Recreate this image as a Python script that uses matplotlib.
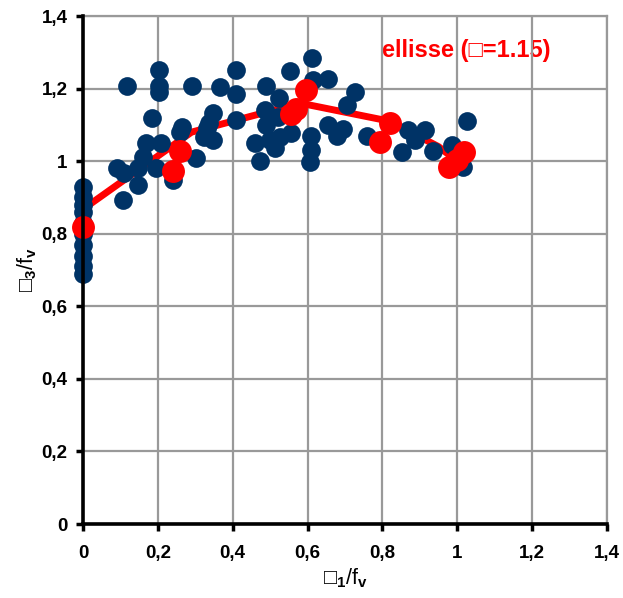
import numpy as np
import matplotlib.pyplot as plt

plt.rcParams['font.family'] = ['Liberation Sans', 'DejaVu Sans']
plt.rcParams['font.weight'] = 'bold'
plt.rcParams['mathtext.fontset'] = 'custom'
plt.rcParams['mathtext.rm'] = 'Liberation Sans:bold'
plt.rcParams['mathtext.it'] = 'Liberation Sans:bold'
plt.rcParams['mathtext.bf'] = 'Liberation Sans:bold'

# experimental points (s1/fv, s3/fv)
exp_x = [0, 0, 0, 0, 0, 0, 0, 0, 0, 0,
         0.091, 0.110, 0.107, 0.117, 0.147, 0.147, 0.160, 0.168, 0.184, 0.195,
         0.204, 0.204, 0.204, 0.208, 0.240, 0.259, 0.264, 0.290, 0.302, 0.323,
         0.331, 0.337, 0.348, 0.348, 0.366, 0.409, 0.409, 0.409, 0.460, 0.473,
         0.490, 0.490, 0.500, 0.513, 0.520, 0.524, 0.526, 0.486, 0.553, 0.557,
         0.612, 0.615, 0.610, 0.610, 0.606, 0.655, 0.655, 0.679, 0.695, 0.705,
         0.727, 0.758, 0.852, 0.868, 0.887, 0.914, 0.935, 0.986, 1.026, 1.015]
exp_y = [0.69, 0.71, 0.74, 0.77, 0.80, 0.83, 0.86, 0.88, 0.90, 0.93,
         0.981, 0.967, 0.893, 1.207, 0.934, 0.981, 1.011, 1.050, 1.118, 0.981,
         1.251, 1.207, 1.190, 1.050, 0.948, 1.080, 1.094, 1.207, 1.010, 1.066,
         1.091, 1.105, 1.132, 1.058, 1.204, 1.251, 1.186, 1.113, 1.050, 1.000,
         1.207, 1.100, 1.058, 1.036, 1.122, 1.174, 1.066, 1.140, 1.248, 1.077,
         1.284, 1.223, 1.070, 1.030, 0.998, 1.226, 1.100, 1.070, 1.090, 1.155,
         1.190, 1.070, 1.025, 1.085, 1.058, 1.086, 1.028, 1.044, 1.110, 0.983]

# ellipse criterion curve
curve_x = [0, 0.01, 0.29, 0.58, 0.82, 0.95, 1.0]
curve_y = [0.82, 0.875, 1.08, 1.16, 1.11, 1.04, 1.0]

# ellipse criterion points
ell_x = [0, 0.240, 0.259, 0.555, 0.570, 0.595, 0.794, 0.820, 0.978, 0.998, 1.018]
ell_y = [0.818, 0.973, 1.028, 1.130, 1.145, 1.196, 1.052, 1.105, 0.983, 1.004, 1.025]

fig = plt.figure(figsize=(6.23, 5.98), dpi=100)
ax = fig.add_axes([0.1332, 0.1237, 0.8411, 0.8495])

ax.plot(curve_x, curve_y, color='#FF0000', lw=5, zorder=2, solid_capstyle='butt')
ax.plot(exp_x, exp_y, 'o', color='#003366', ms=13.5, mec='none', zorder=3, clip_on=False)
ax.plot(ell_x, ell_y, 'o', color='#FF0000', ms=16.5, mec='none', zorder=4, clip_on=False)

ax.set_xlim(0, 1.4)
ax.set_ylim(0, 1.4)
ticks = np.arange(0, 1.41, 0.2)
labels = ['0'] + [('%.1f' % t).replace('.', ',') for t in ticks[1:]]
labels = [l if l != '1,0' else '1' for l in labels]
ax.set_xticks(ticks)
ax.set_xticklabels(labels)
ax.set_yticks(ticks)
ax.set_yticklabels(labels)
ax.tick_params(direction='out', length=5, width=2.5, labelsize=13.5)
ax.tick_params(axis='x', pad=10)
ax.tick_params(axis='y', pad=6)

ax.set_axisbelow(True)
ax.grid(True, color='#999999', lw=1.6)
for s in ['left', 'bottom']:
    ax.spines[s].set_linewidth(2.6)
    ax.spines[s].set_color('black')
    ax.spines[s].set_zorder(5)
for s in ['top', 'right']:
    ax.spines[s].set_linewidth(1.6)
    ax.spines[s].set_color('#999999')

ax.set_xlabel('\u25a1$_1$/f$_v$', fontsize=15.5, labelpad=3)
ax.set_ylabel('\u25a1$_3$/f$_v$', fontsize=15.5, labelpad=2)

ax.text(0.80, 1.306, 'ellisse (\u25a1=1.15)', color='#FF0000', fontsize=17,
        fontweight='bold', va='center', ha='left', zorder=0.1)

fig.savefig('out.png', dpi=100)
